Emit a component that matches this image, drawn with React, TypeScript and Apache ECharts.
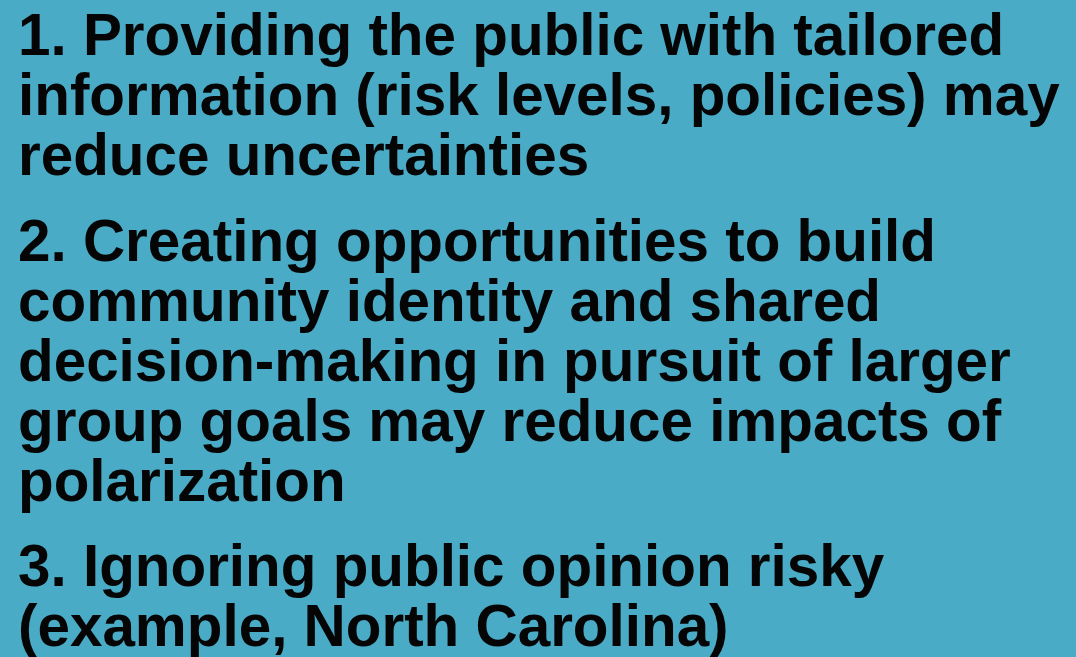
import React, { useEffect, useRef } from "react";
import * as echarts from "echarts";

const paragraph1 = [
  "1. Providing the public with tailored",
  "information (risk levels, policies) may",
  "reduce uncertainties",
];
const paragraph2 = [
  "2. Creating opportunities to build",
  "community identity and shared",
  "decision-making in pursuit of larger",
  "group goals may reduce impacts of",
  "polarization",
];
const paragraph3 = [
  "3. Ignoring public opinion risky",
  "(example, North Carolina)",
];
const paragraphs = [paragraph1, paragraph2, paragraph3];
const paragraphBaselines = [55, 261, 586];

const FONT_SIZE = 58.4;
const LINE_H = 60;
const LEFT = 18;

export default function App() {
  const ref = useRef<HTMLDivElement>(null);
  useEffect(() => {
    if (!ref.current) return;
    const chart = echarts.init(ref.current, undefined, { renderer: "svg" });
    const elements: any[] = [];
    paragraphs.forEach((lines, pi) => {
      lines.forEach((line, li) => {
        const baseline = paragraphBaselines[pi] + li * LINE_H;
        elements.push({
          type: "text",
          x: LEFT,
          y: baseline - 0.3465 * FONT_SIZE,
          style: {
            text: line,
            fill: "#050505",
            font: `bold ${FONT_SIZE}px "Liberation Sans", Arial, sans-serif`,
            textAlign: "left",
            textVerticalAlign: "middle",
            verticalAlign: "middle",
          },
        });
      });
    });
    chart.setOption({
      animation: false,
      backgroundColor: "#4aabc7",
      graphic: { elements },
    });
    return () => chart.dispose();
  }, []);
  return (
    <div
      ref={ref}
      style={{ position: "fixed", left: 0, top: 0, width: 1076, height: 657 }}
    />
  );
}
